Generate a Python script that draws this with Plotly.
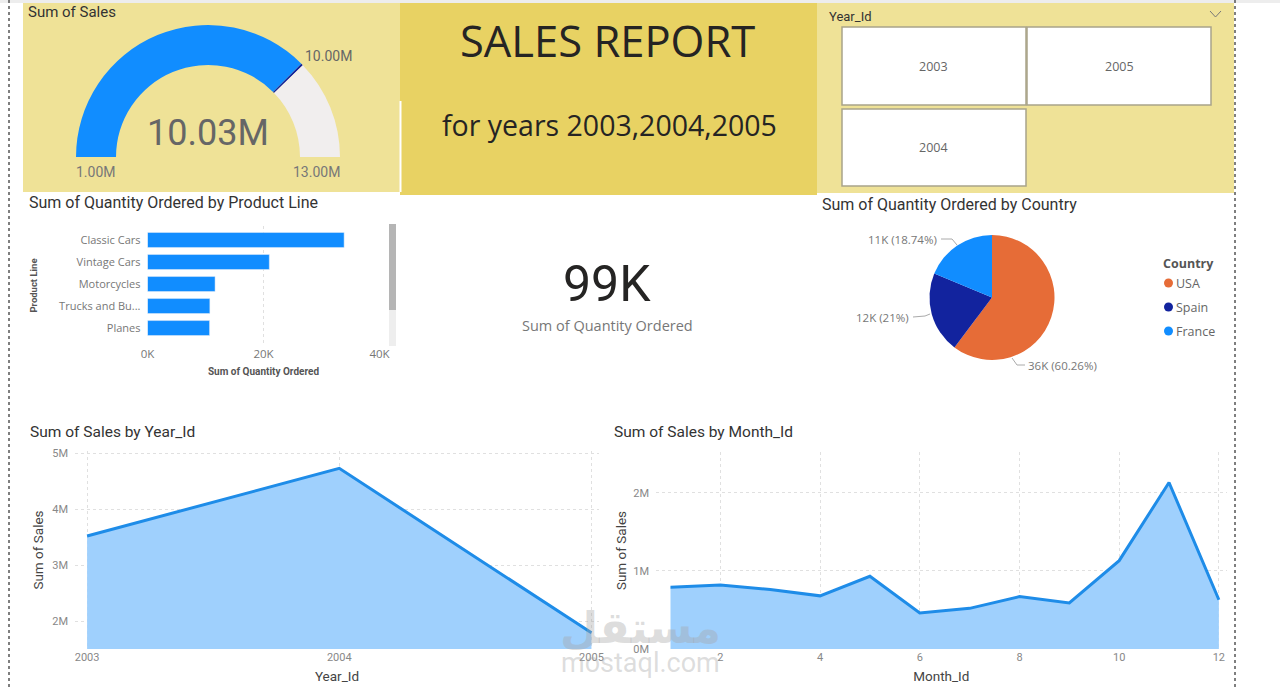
import plotly.graph_objects as go

# gauge
gauge_min = 1.0
gauge_max = 13.0
gauge_value = 10.03
gauge_target = 10.0

# bars
product_lines = ['Classic Cars', 'Vintage Cars', 'Motorcycles', 'Trucks and Bu...', 'Planes']
product_qty = [33900, 21000, 11650, 10750, 10700]
qty_ticks = [0, 20000, 40000]
qty_tick_labels = ['0K', '20K', '40K']

# pie
countries = ['USA', 'Spain', 'France']
country_qty = [35900, 12500, 11170]
country_labels = ['36K (60.26%)', '12K (21%)', '11K (18.74%)']

# areas
years = [2003, 2004, 2005]
year_sales = [3.52e6, 4.73e6, 1.79e6]
year_yticks = [2e6, 3e6, 4e6, 5e6]
year_ylabels = ['2M', '3M', '4M', '5M']

months = [1, 2, 3, 4, 5, 6, 7, 8, 9, 10, 11, 12]
month_sales = [0.79e6, 0.82e6, 0.76e6, 0.68e6, 0.93e6, 0.46e6, 0.52e6, 0.67e6, 0.59e6, 1.13e6, 2.13e6, 0.63e6]
month_xticks = [2, 4, 6, 8, 10, 12]
month_yticks = [0, 1e6, 2e6]
month_ylabels = ['0M', '1M', '2M']

slicer_years = ['2003', '2005', '2004']

W, H = 1280, 690
BLUE, NAVY, ORANGE = '#118DFF', '#12239E', '#E66C37'
PANEL, PANEL_MID = '#EFE297', '#E8D263'
LINE_BLUE, FILL_BLUE = '#1E8CE8', '#9FD0FD'
GRID = '#E0E0E0'
TITLE_FONT = 'Roboto'
BODY_FONT = 'Open Sans'


def xd(a, b):
    return [a / W, b / W]


def yd(top, bottom):
    return [1 - bottom / H, 1 - top / H]


shapes = []
notes = []


def rect(x0, y0, x1, y1, fill, line=None, lw=0):
    shapes.append(dict(type='rect', xref='paper', yref='paper', layer='below',
                       x0=x0 / W, x1=x1 / W, y0=1 - y0 / H, y1=1 - y1 / H,
                       fillcolor=fill, line=dict(color=line or fill, width=lw)))


def path(points, color, width=1, dash='solid'):
    d = ''
    for i, (px, py) in enumerate(points):
        d += ('M' if i == 0 else 'L') + f'{px / W},{1 - py / H} '
    shapes.append(dict(type='path', xref='paper', yref='paper', path=d,
                       line=dict(color=color, width=width, dash=dash)))


def dot(x, y, r, color):
    shapes.append(dict(type='circle', xref='paper', yref='paper',
                       x0=(x - r) / W, x1=(x + r) / W, y0=1 - (y + r) / H, y1=1 - (y - r) / H,
                       fillcolor=color, line=dict(width=0)))


def txt(x, y, s, size, color='#333333', anchor='left', family=BODY_FONT):
    # annotation boxes have a little padding, take it back
    shift = {'left': -2, 'right': 2, 'center': 0}[anchor]
    notes.append(dict(x=(x + shift) / W, y=1 - y / H, xref='paper', yref='paper', text=s, showarrow=False,
                      xanchor=anchor, yanchor='middle',
                      font=dict(size=size, color=color, family=family)))


# panels
rect(0, 0, W, 3, '#EDEDED')
rect(23, 3, 400, 192, PANEL)
rect(817, 3, 1234, 193, PANEL)
rect(400, 3, 817, 195, PANEL_MID)
rect(399.5, 101, 401.5, 192, '#FFFFFF')
rect(842, 27, 1026, 105, '#FFFFFF', '#A9A48A', 1.5)
rect(1027, 27, 1211, 105, '#FFFFFF', '#A9A48A', 1.5)
rect(842, 109, 1026, 186, '#FFFFFF', '#A9A48A', 1.5)
rect(389, 224, 396, 346, '#EEEEEE')
rect(389, 224, 396, 310, '#B5B5B5')
path([(9, 0), (9, H)], '#555555', 1.5, 'dot')
path([(1235, 0), (1235, H)], '#555555', 1.5, 'dot')
path([(1210, 11), (1215.5, 17), (1221, 11)], '#777777', 1)

# headline text
txt(607, 41, 'SALES REPORT', 43.5, '#252423', 'center')
txt(609, 125, 'for years 2003,2004,2005', 28.5, '#252423', 'center')
txt(607, 284, '99K', 50, '#252423', 'center', TITLE_FONT)
txt(607, 325, 'Sum of Quantity Ordered', 14.5, '#777777', 'center')

# chart titles
txt(28, 12, 'Sum of Sales', 15, '#333333', family=TITLE_FONT)
txt(29, 203, 'Sum of Quantity Ordered by Product Line', 16, '#333333', family=TITLE_FONT)
txt(822, 204, 'Sum of Quantity Ordered by Country', 16, '#333333', family=TITLE_FONT)
txt(30, 432, 'Sum of Sales by Year_Id', 15.5, '#333333', family=TITLE_FONT)
txt(614, 432, 'Sum of Sales by Month_Id', 15.5, '#333333', family=TITLE_FONT)
txt(829, 16, 'Year_Id', 13, '#333333', family=TITLE_FONT)

# gauge labels
txt(208, 133, f'{gauge_value:.2f}M', 36, '#666666', 'center', TITLE_FONT)
txt(305, 56, f'{gauge_target:.2f}M', 14, '#666666', family=TITLE_FONT)
txt(76, 172, f'{gauge_min:.2f}M', 14, '#777777', family=TITLE_FONT)
txt(340, 172, f'{gauge_max:.2f}M', 14, '#777777', 'right', TITLE_FONT)

# slicer
txt(933.5, 66, slicer_years[0], 12.5, '#666666', 'center')
txt(1119, 66, slicer_years[1], 12.5, '#666666', 'center')
txt(933.5, 147, slicer_years[2], 12.5, '#666666', 'center')

# pie labels and legend
txt(1028, 365, country_labels[0], 11.5, '#777777')
txt(909, 317, country_labels[1], 11.5, '#777777', 'right')
txt(937, 239, country_labels[2], 11.5, '#777777', 'right')
path([(1012, 358), (1017, 365), (1025, 365)], '#AAAAAA')
path([(913, 317), (925, 316), (930, 314)], '#AAAAAA')
path([(941, 239), (952, 239), (957, 245)], '#AAAAAA')

txt(1163, 263, '<b>Country</b>', 12.5, '#555555')
for name, col, ly in zip(countries, [ORANGE, NAVY, BLUE], [283, 307, 331]):
    dot(1168.5, ly, 4.5, col)
    txt(1176, ly, name, 12.5, '#666666')

# site watermark over the bottom of the charts
txt(640, 627, '<b>مستقل</b>', 44, 'rgba(165,165,165,0.38)', 'center', 'DejaVu Sans')
txt(640, 663, 'mostaql.com', 27, 'rgba(165,165,165,0.38)', 'center', 'Roboto')

fig = go.Figure()

# half donut, the lower half stays transparent
span = gauge_max - gauge_min
fig.add_trace(go.Pie(values=[gauge_value - gauge_min - 0.03, 0.06, gauge_max - gauge_value - 0.03, span],
                     marker=dict(colors=[BLUE, NAVY, '#F1EEEE', 'rgba(0,0,0,0)'], line=dict(width=0)),
                     hole=92 / 132, rotation=270, direction='clockwise', sort=False,
                     textinfo='none', hoverinfo='skip', showlegend=False,
                     domain=dict(x=xd(76, 340), y=yd(25, 289))))

fig.add_trace(go.Pie(labels=countries, values=country_qty,
                     marker=dict(colors=[ORANGE, NAVY, BLUE], line=dict(width=0)),
                     direction='clockwise', sort=False, rotation=0,
                     textinfo='none', showlegend=False,
                     domain=dict(x=xd(929.5, 1054.5), y=yd(235, 360))))

fig.add_trace(go.Bar(x=product_qty, y=product_lines, orientation='h', marker_color=BLUE,
                     width=0.68, xaxis='x', yaxis='y', showlegend=False))

fig.add_trace(go.Scatter(x=years, y=year_sales, mode='lines', fill='tozeroy',
                         line=dict(color=LINE_BLUE, width=3), fillcolor=FILL_BLUE,
                         xaxis='x2', yaxis='y2', showlegend=False))

fig.add_trace(go.Scatter(x=months, y=month_sales, mode='lines', fill='tozeroy',
                         line=dict(color=LINE_BLUE, width=3), fillcolor=FILL_BLUE,
                         xaxis='x3', yaxis='y3', showlegend=False))

tick = dict(size=11, color='#888888', family=TITLE_FONT)
title_f = dict(size=13.5, color='#444444', family=TITLE_FONT)
common = dict(showgrid=True, gridcolor=GRID, griddash='dot', gridwidth=1, zeroline=False,
              showline=False, ticks='', tickfont=tick, automargin=False)

fig.update_layout(
    width=W, height=H, margin=dict(l=0, r=0, t=0, b=0, pad=0), paper_bgcolor='white',
    plot_bgcolor='rgba(0,0,0,0)', shapes=shapes, annotations=notes,
    xaxis=dict(common, domain=xd(147.5, 379.5), range=[0, 40000], tickvals=qty_ticks,
               ticktext=qty_tick_labels, anchor='y',
               tickfont=dict(size=11.5, color='#777777', family=BODY_FONT),
               title=dict(text='<b>Sum of Quantity Ordered</b>', standoff=8,
                          font=dict(size=10, color='#555555', family=TITLE_FONT))),
    yaxis=dict(common, domain=yd(226, 345), range=[4.77, -0.636], showgrid=False, anchor='x',
               tickfont=dict(size=11, color='#777777', family=BODY_FONT), ticklabelstandoff=6,
               title=dict(text='<b>Product Line</b>', standoff=19,
                          font=dict(size=9.5, color='#555555', family=TITLE_FONT))),
    xaxis2=dict(common, domain=xd(75, 599), range=[2002.952, 2005.03], tickvals=years, anchor='y2',
                title=dict(text='Year_Id', standoff=8, font=title_f)),
    yaxis2=dict(common, domain=yd(451, 649), range=[1.5e6, 5.04e6], tickvals=year_yticks,
                ticktext=year_ylabels, anchor='x2', ticklabelstandoff=6,
                title=dict(text='Sum of Sales', standoff=5, font=title_f)),
    xaxis3=dict(common, domain=xd(656, 1226.6), range=[0.709, 12.155], tickvals=month_xticks, anchor='y3',
                title=dict(text='Month_Id', standoff=8, font=title_f)),
    yaxis3=dict(common, domain=yd(452, 649), range=[0, 2.52e6], tickvals=month_yticks,
                ticktext=month_ylabels, anchor='x3', ticklabelstandoff=6,
                title=dict(text='Sum of Sales', standoff=3, font=title_f)),
)

fig.write_html("out.html", config=dict(displayModeBar=False),
               post_script="document.body.style.margin='0';document.documentElement.style.overflow='hidden';")
